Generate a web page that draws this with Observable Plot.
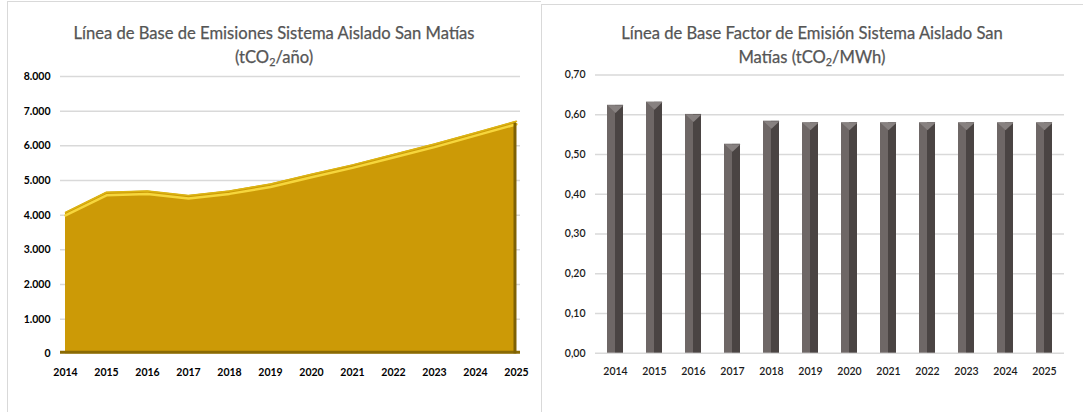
<!DOCTYPE html>
<html><head><meta charset="utf-8">
<script src="https://cdn.jsdelivr.net/npm/d3@7"></script>
<script src="https://cdn.jsdelivr.net/npm/@observablehq/plot@0.6"></script>
<style>
body{margin:0;background:#fff;width:1083px;height:412px;overflow:hidden;position:relative;font-family:Lato,sans-serif}
.frame{position:absolute;border-left:1px solid #d9d9d9;border-top:1px solid #d9d9d9;box-sizing:border-box}
.title{position:absolute;text-align:center;color:#555555;font-size:16.6px;line-height:24px;white-space:nowrap;-webkit-text-stroke:0.25px #555555}
.title sub{font-size:0.65em;vertical-align:-0.3em;line-height:0}
.chart{position:absolute}
.chart svg{overflow:visible}
</style></head><body>
<div class="frame" style="left:7px;top:1px;width:534px;height:411px"></div>
<div class="frame" style="left:541px;top:4px;width:542px;height:408px"></div>
<div class="title" style="left:7px;top:21px;width:534px">Línea de Base de Emisiones Sistema Aislado San Matías<br>(tCO<sub>2</sub>/año)</div>
<div class="title" style="left:541px;top:21px;width:542px">Línea de Base Factor de Emisión Sistema Aislado San<br>Matías (tCO<sub>2</sub>/MWh)</div>
<div class="chart" id="c1" style="left:0;top:70px"></div>
<div class="chart" id="c2" style="left:541px;top:70px"></div>
<script>
const years = ["2014","2015","2016","2017","2018","2019","2020","2021","2022","2023","2024","2025"];
const emisiones = [4080, 4660, 4700, 4570, 4700, 4900, 5180, 5450, 5750, 6050, 6380, 6710];
const factor = [0.624, 0.632, 0.601, 0.526, 0.584, 0.580, 0.580, 0.580, 0.580, 0.580, 0.580, 0.580];
const ticksEmis = [0, 1000, 2000, 3000, 4000, 5000, 6000, 7000, 8000];
const ticksFactor = [0, 0.1, 0.2, 0.3, 0.4, 0.5, 0.6, 0.7];

const dataEmis = years.map((y, i) => ({year: y, value: emisiones[i]}));
const dataFactor = years.map((y, i) => ({year: y, value: factor[i]}));

const fmtMiles = d => d === 0 ? "0" : String(d).replace(/\B(?=(\d{3})+(?!\d))/g, ".");
const fmtComa = d => d.toFixed(2).replace(".", ",");

const chart1 = Plot.plot({
  width: 541, height: 342,
  marginLeft: 60, marginRight: 21, marginTop: 6, marginBottom: 58.7,
  style: {fontFamily: "Lato, sans-serif", fontSize: "10.5px", fontWeight: "bold", color: "#000", background: "transparent", overflow: "visible"},
  x: {type: "point", domain: years, padding: 0, tickSize: 0, tickPadding: 15, label: null},
  y: {domain: [0, 8000], ticks: ticksEmis, tickSize: 0, tickPadding: 10, tickFormat: fmtMiles, label: null},
  marks: [
    Plot.ruleY(ticksEmis.slice(1), {stroke: "#d9d9d9", strokeWidth: 1.5}),
    Plot.areaY(dataEmis, {x: "year", y: "value", fill: "#cc9a06"}),
    Plot.line(dataEmis, {x: "year", y: "value", stroke: "#dcb414", strokeWidth: 1.5}),
    Plot.line(dataEmis, {x: "year", y: "value", stroke: "#f6d63c", strokeWidth: 2.5, dy: 3}),
    Plot.ruleY([0], {stroke: "#8a6a04", strokeWidth: 3, dy: -1.5}),
    Plot.ruleX([years[years.length - 1]], {y1: 0, y2: emisiones[emisiones.length - 1] - 60, stroke: "#7e6104", strokeWidth: 3, dx: -1.5})
  ]
});
document.getElementById("c1").appendChild(chart1);

const triangle = {
  draw(context, size) {
    const r = Math.sqrt(size / Math.PI);
    context.moveTo(-r, 0);
    context.lineTo(r, 0);
    context.lineTo(0, r * 0.95);
    context.closePath();
  }
};

const chart2 = Plot.plot({
  width: 542, height: 342,
  marginLeft: 54, marginRight: 19, marginTop: 4.6, marginBottom: 59.3,
  style: {fontFamily: "Lato, sans-serif", fontSize: "10.5px", fontWeight: "600", color: "#1a1a1a", background: "transparent", overflow: "visible"},
  x: {type: "band", domain: years, paddingInner: 0.59, paddingOuter: 0.295, tickSize: 0, tickPadding: 14, label: null},
  y: {domain: [0, 0.7], ticks: ticksFactor, tickSize: 0, tickPadding: 10, tickFormat: fmtComa, label: null},
  marks: [
    Plot.ruleY(ticksFactor, {stroke: "#d9d9d9", strokeWidth: 1.5}),
    Plot.barY(dataFactor, {x: "year", y: "value", fill: "url(#barg)"}),
    Plot.dot(dataFactor, {x: "year", y: "value", symbol: triangle, r: 8, fill: "#878180"})
  ]
});
const ns = "http://www.w3.org/2000/svg";
const defs = document.createElementNS(ns, "defs");
const grad = document.createElementNS(ns, "linearGradient");
grad.setAttribute("id", "barg");
grad.setAttribute("x1", "0"); grad.setAttribute("x2", "1");
grad.setAttribute("y1", "0"); grad.setAttribute("y2", "0");
[["0", "#6e6766"], ["0.5", "#6e6766"], ["0.5", "#4a4443"], ["1", "#4a4443"]].forEach(([o, c]) => {
  const s = document.createElementNS(ns, "stop");
  s.setAttribute("offset", o); s.setAttribute("stop-color", c);
  grad.appendChild(s);
});
defs.appendChild(grad);
chart2.insertBefore(defs, chart2.firstChild);
document.getElementById("c2").appendChild(chart2);
</script>
</body></html>
